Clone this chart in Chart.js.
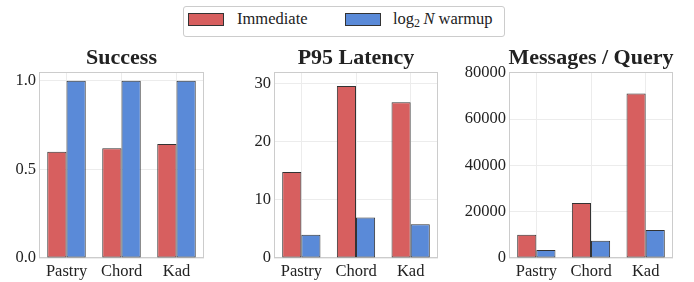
<!DOCTYPE html>
<html>
<head>
<meta charset="utf-8">
<script src="https://cdn.jsdelivr.net/npm/chart.js@4/dist/chart.umd.min.js"></script>
<style>
body{margin:0;background:#fff;width:694px;height:282px;position:relative;overflow:hidden;font-family:"Liberation Serif",serif;color:#222;}
canvas{position:absolute;top:40px;}
#legend{position:absolute;left:183px;top:6px;width:320px;height:29px;border:1px solid #cccccc;border-radius:3px;font-size:16.5px;}
#legend .sw{position:absolute;top:6px;width:34px;height:11px;border:1px solid #333;}
#legend .lb{position:absolute;top:3px;line-height:18px;white-space:nowrap;}
</style>
</head>
<body>
<div id="legend">
<div class="sw" style="left:4px;background:#d75f5f"></div>
<div class="lb" style="left:53px">Immediate</div>
<div class="sw" style="left:161px;background:#5a8ad8"></div>
<div class="lb" style="left:209px">log<sub style="font-size:12px;vertical-align:-3px">2</sub>&thinsp;<i>N</i> warmup</div>
</div>
<canvas id="c1" width="210" height="242" style="left:0px"></canvas>
<canvas id="c2" width="210" height="242" style="left:240px"></canvas>
<canvas id="c3" width="239" height="242" style="left:455px"></canvas>
<script>
const cats=['Pastry','Chord','Kad'];
const seriesNames=['Immediate','log2 N warmup'];

const successImm=[0.60,0.62,0.643];
const successWarm=[1.0,1.0,1.0];
const successTicks=[0,0.5,1.0];

const latImm=[14.8,29.6,26.8];
const latWarm=[4.0,6.95,5.8];
const latTicks=[0,10,20,30];

const msgImm=[10050,23750,71000];
const msgWarm=[3450,7450,12100];
const msgTicks=[0,20000,40000,60000,80000];

const red='#d75f5f', blue='#5a8ad8';
const font='"Liberation Serif", "Times New Roman", serif';

const panelPlugin={
id:'panel',
beforeDatasetsDraw(chart,args,opts){
let a=chart.chartArea, ctx=chart.ctx;
ctx.save();
ctx.strokeStyle='#cccccc';
ctx.lineWidth=1;
ctx.strokeRect(a.left+0.5,a.top+0.5,a.right-a.left-1,a.bottom-a.top-1);
ctx.fillStyle='#222';
ctx.font='bold 22px '+font;
ctx.textAlign='center';
ctx.textBaseline='alphabetic';
ctx.fillText(opts.text,(a.left+a.right)/2,24);
ctx.restore();
}
};

function makeChart(id,title,imm,warm,ticks,max,yw,padRight,fmt){
new Chart(document.getElementById(id),{
type:'bar',
data:{
labels:cats,
datasets:[
{label:seriesNames[0],data:imm,backgroundColor:red,borderColor:'#333',borderWidth:1,borderSkipped:false},
{label:seriesNames[1],data:warm,backgroundColor:blue,borderColor:'#333',borderWidth:1,borderSkipped:false}
]
},
options:{
responsive:false,
animation:false,
layout:{padding:{top:32,right:padRight,left:0,bottom:0}},
categoryPercentage:0.7,
barPercentage:1.0,
plugins:{legend:{display:false},tooltip:{enabled:false},panel:{text:title}},
scales:{
x:{
grid:{color:'#ececec',offset:false,drawTicks:false},
border:{display:false},
ticks:{color:'#222',font:{family:font,size:16.5},padding:4},
afterFit(s){s.height=24;}
},
y:{
min:0,max:max,
grid:{color:'#ececec',drawTicks:false},
border:{display:false},
ticks:{color:'#222',font:{family:font,size:16.5},padding:3,callback:fmt},
afterBuildTicks(s){s.ticks=ticks.map(v=>({value:v}));},
afterFit(s){s.width=yw;}
}
}
},
plugins:[panelPlugin]
});
}

makeChart('c1','Success',successImm,successWarm,successTicks,1.05,39,6,v=>v.toFixed(1));
makeChart('c2','P95 Latency',latImm,latWarm,latTicks,32,34,12,v=>String(v));
makeChart('c3','Messages / Query',msgImm,msgWarm,msgTicks,80300,54,21,v=>String(v));
</script>
</body>
</html>
